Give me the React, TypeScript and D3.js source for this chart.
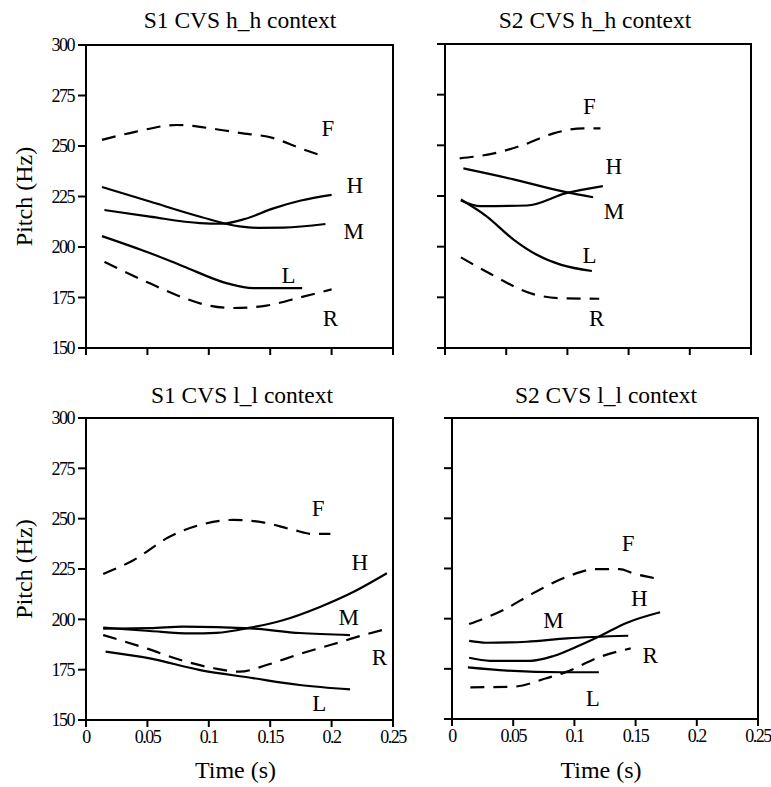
import React from 'react';
import * as d3 from 'd3';

// pitch contours, [time (s), pitch (Hz)]
const s1hhF = [[0.013, 253], [0.04, 257], [0.074, 260.4], [0.104, 258.5], [0.125, 256.5], [0.152, 254], [0.174, 249], [0.193, 245]];
const s1hhH = [[0.015, 218.3], [0.052, 215], [0.093, 211.8], [0.11, 211.5], [0.13, 214], [0.152, 219], [0.175, 223], [0.2, 225.8]];
const s1hhM = [[0.013, 229.7], [0.052, 222.5], [0.093, 215], [0.125, 210.2], [0.14, 209.5], [0.161, 209.6], [0.195, 211.4]];
const s1hhL = [[0.013, 205.4], [0.052, 197], [0.079, 190.5], [0.115, 182], [0.136, 179.6], [0.176, 179.6]];
const s1hhR = [[0.015, 192.6], [0.052, 182], [0.077, 175.4], [0.098, 171.3], [0.12, 169.8], [0.147, 171], [0.174, 175], [0.2, 179]];

const s2hhF = [[0.012, 243.6], [0.039, 245.9], [0.064, 250.2], [0.088, 255.8], [0.113, 258.4], [0.127, 258.4]];
const s2hhH = [[0.013, 222.8], [0.029, 220], [0.067, 220.3], [0.099, 226.4], [0.129, 229.9]];
const s2hhM = [[0.015, 238.6], [0.056, 233.2], [0.099, 226.9], [0.121, 224.4]];
const s2hhL = [[0.013, 223.3], [0.034, 215], [0.056, 203.5], [0.075, 196], [0.095, 191], [0.12, 188]];
const s2hhR = [[0.013, 194.7], [0.037, 186.6], [0.072, 176.6], [0.094, 174.6], [0.126, 174.3]];

const s1llF = [[0.014, 222.5], [0.039, 229.5], [0.068, 241], [0.093, 246.9], [0.12, 249.4], [0.144, 248.2], [0.169, 244.4], [0.185, 242.4], [0.199, 242.4]];
const s1llH = [[0.014, 195.9], [0.052, 194.2], [0.085, 193], [0.106, 193.3], [0.134, 195.9], [0.161, 199.7], [0.191, 206.3], [0.218, 213.7], [0.245, 222.9]];
const s1llM = [[0.014, 195.4], [0.052, 195.6], [0.079, 196.4], [0.134, 195.5], [0.174, 193.2], [0.215, 192.2]];
const s1llL = [[0.016, 184], [0.052, 180.6], [0.093, 174.8], [0.134, 171], [0.174, 167.4], [0.215, 165.2]];
const s1llR = [[0.014, 192.2], [0.049, 185.6], [0.077, 179.8], [0.104, 175.7], [0.125, 174], [0.147, 177.3], [0.174, 182.8], [0.201, 187.6], [0.226, 192.2], [0.246, 195.4]];

const s2llF = [[0.014, 197.3], [0.042, 204.3], [0.066, 212.6], [0.094, 220.9], [0.118, 224.7], [0.137, 224.7], [0.148, 222.6], [0.166, 220.1]];
const s2llH = [[0.014, 180.5], [0.031, 179], [0.064, 179], [0.083, 181.4], [0.105, 186.9], [0.121, 191.4], [0.143, 198], [0.17, 203.2]];
const s2llM = [[0.014, 188.9], [0.028, 188], [0.061, 188.5], [0.094, 190.2], [0.144, 191.5]];
const s2llL = [[0.013, 175.7], [0.045, 174.1], [0.091, 173.3], [0.12, 173.3]];
const s2llR = [[0.015, 165.8], [0.05, 166.1], [0.077, 170.3], [0.094, 173.6], [0.121, 181], [0.146, 185.2]];

// contour labels: [text, time, pitch]
const s1hhLabels = [['F', 0.197, 259], ['H', 0.219, 230.7], ['M', 0.218, 208], ['L', 0.165, 186], ['R', 0.199, 164.8]];
const s2hhLabels = [['F', 0.118, 269.5], ['H', 0.138, 239.8], ['M', 0.138, 217.5], ['L', 0.118, 196], ['R', 0.124, 164.7]];
const s1llLabels = [['F', 0.189, 255.2], ['H', 0.223, 228.6], ['M', 0.214, 201.3], ['R', 0.239, 181.5], ['L', 0.19, 158.3]];
const s2llLabels = [['F', 0.144, 237.5], ['H', 0.153, 210.1], ['M', 0.083, 199.3], ['R', 0.162, 181.9], ['L', 0.115, 160.6]];

const timeTicks = [0, 0.05, 0.1, 0.15, 0.2, 0.25];
const pitchTicks = [150, 175, 200, 225, 250, 275, 300];

const panels = [
  { title: 'S1 CVS h_h context', x0: 86, x1: 393, y0: 45, y1: 348, tx: 240, ty: 28, yLab: true, xLab: false,
    solid: [s1hhH, s1hhM, s1hhL], dashed: [s1hhF, s1hhR], labels: s1hhLabels },
  { title: 'S2 CVS h_h context', x0: 445, x1: 751, y0: 44, y1: 348, tx: 595, ty: 28, yLab: false, xLab: false,
    solid: [s2hhH, s2hhM, s2hhL], dashed: [s2hhF, s2hhR], labels: s2hhLabels },
  { title: 'S1 CVS l_l context', x0: 86, x1: 393, y0: 418, y1: 720, tx: 242, ty: 403, yLab: true, xLab: true,
    solid: [s1llH, s1llM, s1llL], dashed: [s1llF, s1llR], labels: s1llLabels },
  { title: 'S2 CVS l_l context', x0: 452, x1: 758, y0: 418, y1: 719, tx: 606, ty: 403, yLab: false, xLab: true,
    solid: [s2llH, s2llM, s2llL], dashed: [s2llF, s2llR], labels: s2llLabels },
];

const font = '"Liberation Serif", "Times New Roman", serif';

const Panel = ({ p }: { p: any }) => {
  const x = d3.scaleLinear().domain([0, 0.25]).range([p.x0, p.x1]);
  const y = d3.scaleLinear().domain([150, 300]).range([p.y1, p.y0]);
  const line = d3.line<number[]>()
    .x(d => x(d[0]))
    .y(d => y(d[1]))
    .curve(d3.curveMonotoneX);

  return (
    <g>
      <text x={p.tx} y={p.ty} textAnchor="middle" fontSize={23.5}>{p.title}</text>
      <rect x={p.x0} y={p.y0} width={p.x1 - p.x0} height={p.y1 - p.y0} fill="none" stroke="#000" strokeWidth={2} />
      {pitchTicks.map(v => (
        <g key={'y' + v}>
          <line x1={p.x0 - 8} x2={p.x0} y1={y(v)} y2={y(v)} stroke="#000" strokeWidth={2} />
          {p.yLab && (
            <text x={p.x0 - 12} y={y(v)} dy="0.35em" textAnchor="end" fontSize={18} letterSpacing={-1.5}>{v}</text>
          )}
        </g>
      ))}
      {timeTicks.map(v => (
        <g key={'x' + v}>
          <line x1={x(v)} x2={x(v)} y1={p.y1} y2={p.y1 + 7} stroke="#000" strokeWidth={2} />
          {p.xLab && (
            <text x={x(v)} y={p.y1 + 23} textAnchor="middle" fontSize={18} letterSpacing={-1.5}>{String(v)}</text>
          )}
        </g>
      ))}
      {p.solid.map((s: number[][], i: number) => (
        <path key={'s' + i} d={line(s) || ''} fill="none" stroke="#000" strokeWidth={2.2} />
      ))}
      {p.dashed.map((s: number[][], i: number) => (
        <path key={'d' + i} d={line(s) || ''} fill="none" stroke="#000" strokeWidth={2.2} strokeDasharray="14,9" />
      ))}
      {p.labels.map((l: any[], i: number) => (
        <text key={'l' + i} x={x(l[1])} y={y(l[2])} dy="0.35em" textAnchor="middle" fontSize={23}>{l[0]}</text>
      ))}
      {p.yLab && (
        <text transform={`translate(32,${(p.y0 + p.y1) / 2}) rotate(-90)`} textAnchor="middle" fontSize={24}>Pitch (Hz)</text>
      )}
      {p.xLab && (
        <text x={(p.x0 + p.x1) / 2 - 4} y={778} textAnchor="middle" fontSize={24}>Time (s)</text>
      )}
    </g>
  );
};

export default function App() {
  return (
    <svg width={771} height={787} style={{ position: 'absolute', left: 0, top: 0, background: '#fff' }}
      fontFamily={font}>
      {panels.map((p, i) => <Panel key={i} p={p} />)}
    </svg>
  );
}
